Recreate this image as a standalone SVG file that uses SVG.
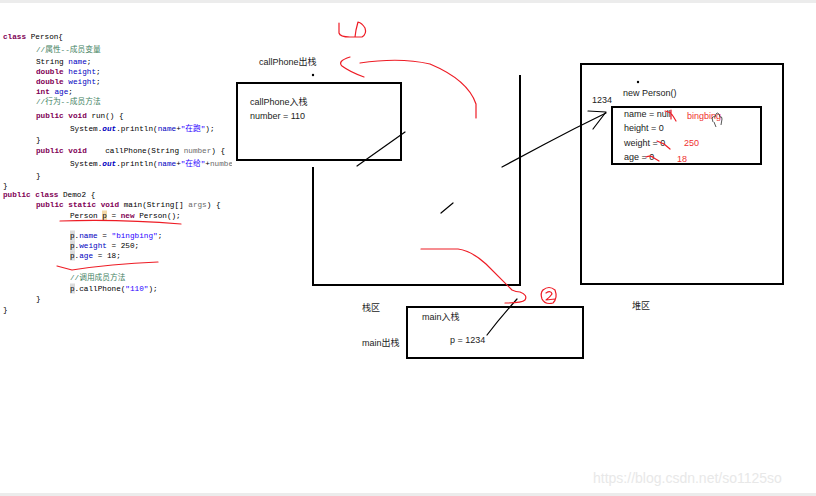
<svg xmlns="http://www.w3.org/2000/svg" width="816" height="496" viewBox="0 0 816 496">
<style>
.code{font-family:"Liberation Mono","Noto Sans CJK SC",monospace;font-size:7.7px;fill:#000;white-space:pre}
.kw{fill:#7f0055;font-weight:bold}
.fd{fill:#0000c0}
.st{fill:#2a00ff}
.cm{fill:#3f7f5f}
.out{fill:#0000c0;font-weight:bold;font-style:italic}
.pa{fill:#6a6a6a}
.lbl{font-family:"Liberation Sans","Noto Sans CJK SC",sans-serif;font-size:9px;fill:#222}
.red{font-family:"Liberation Sans","Noto Sans CJK SC",sans-serif;font-size:9px;fill:#f03030}
.box{fill:#fff;stroke:#000;stroke-width:2}
.line{fill:none;stroke:#000;stroke-width:2}
.ink{fill:none;stroke:#000;stroke-width:1.2;stroke-linecap:round;stroke-linejoin:round}
.rink{fill:none;stroke:#ee1c25;stroke-width:1.2;stroke-linecap:round;stroke-linejoin:round}
</style>
<defs>
<clipPath id="codeclip"><rect x="0" y="0" width="232" height="496"/></clipPath>
</defs>
<rect x="0" y="0" width="816" height="496" fill="#fff"/>
<rect x="0" y="0" width="816" height="3" fill="#ececec"/>
<rect x="0" y="493" width="816" height="3" fill="#ececec"/>

<g id="code" clip-path="url(#codeclip)">
<rect x="102" y="210.5" width="5" height="10" fill="#f4d9a8"/>
<rect x="70" y="230.5" width="5" height="10" fill="#dcdcdc"/>
<rect x="70" y="240.5" width="5" height="10" fill="#dcdcdc"/>
<rect x="70" y="250.5" width="5" height="10" fill="#dcdcdc"/>
<rect x="70" y="283.5" width="5" height="10" fill="#dcdcdc"/>
<text class="code" x="3" y="39"><tspan class="kw">class</tspan> Person{</text>
<text class="code cm" x="36" y="52">//属性--成员变量</text>
<text class="code" x="36" y="64">String <tspan class="fd">name</tspan>;</text>
<text class="code" x="36" y="74"><tspan class="kw">double</tspan> <tspan class="fd">height</tspan>;</text>
<text class="code" x="36" y="84"><tspan class="kw">double</tspan> <tspan class="fd">weight</tspan>;</text>
<text class="code" x="36" y="94"><tspan class="kw">int</tspan> <tspan class="fd">age</tspan>;</text>
<text class="code cm" x="36" y="104">//行为--成员方法</text>
<text class="code" x="36" y="118"><tspan class="kw">public</tspan> <tspan class="kw">void</tspan> run() {</text>
<text class="code" x="70" y="131">System.<tspan class="out">out</tspan>.println(<tspan class="fd">name</tspan>+<tspan class="st">"在跑"</tspan>);</text>
<text class="code" x="36" y="142">}</text>
<text class="code" x="36" y="153"><tspan class="kw">public</tspan> <tspan class="kw">void</tspan>    callPhone(String <tspan class="pa">number</tspan>) {</text>
<text class="code" x="70" y="166">System.<tspan class="out">out</tspan>.println(<tspan class="fd">name</tspan>+<tspan class="st">"在给"</tspan>+<tspan class="pa">number</tspan>);</text>
<text class="code" x="36" y="178">}</text>
<text class="code" x="3" y="188">}</text>
<text class="code" x="3" y="197"><tspan class="kw">public</tspan> <tspan class="kw">class</tspan> Demo2 {</text>
<text class="code" x="36" y="207"><tspan class="kw">public</tspan> <tspan class="kw">static</tspan> <tspan class="kw">void</tspan> main(String[] <tspan class="pa">args</tspan>) {</text>
<text class="code" x="70" y="218">Person p = <tspan class="kw">new</tspan> Person();</text>
<text class="code" x="70" y="238">p.<tspan class="fd">name</tspan> = <tspan class="st">"bingbing"</tspan>;</text>
<text class="code" x="70" y="248">p.<tspan class="fd">weight</tspan> = 250;</text>
<text class="code" x="70" y="258">p.<tspan class="fd">age</tspan> = 18;</text>
<text class="code cm" x="70" y="280">//调用成员方法</text>
<text class="code" x="70" y="291">p.callPhone(<tspan class="st">"110"</tspan>);</text>
<text class="code" x="36" y="301">}</text>
<text class="code" x="3" y="312">}</text>
</g>

<g id="stack">
<circle cx="313" cy="75" r="1.2" fill="#000"/>
<path class="line" d="M313,167 L313,285 L520,285 L520,75"/>
<text class="lbl" x="362" y="311">栈区</text>
<text class="lbl" x="362" y="346">main出栈</text>
<text class="lbl" x="259" y="65">callPhone出栈</text>
</g>

<g id="callphone-frame">
<rect class="box" x="237" y="83" width="164" height="77"/>
<text class="lbl" x="250" y="105">callPhone入栈</text>
<text class="lbl" x="250" y="119">number = 110</text>
</g>

<g id="main-frame">
<rect class="box" x="407" y="307" width="176" height="51"/>
<text class="lbl" x="422" y="320">main入栈</text>
<text class="lbl" x="450" y="343">p = 1234</text>
</g>

<g id="heap">
<rect class="box" x="581" y="64" width="202" height="220"/>
<circle cx="638" cy="82" r="1.2" fill="#000"/>
<text class="lbl" x="623" y="96">new Person()</text>
<text class="lbl" x="592" y="103">1234</text>
<text class="lbl" x="632" y="309">堆区</text>
</g>

<g id="person-object">
<rect class="box" x="612" y="107" width="149" height="57"/>
<text class="lbl" x="624" y="117">name =  null</text>
<text class="lbl" x="624" y="131">height = 0</text>
<text class="lbl" x="624" y="146">weight  = 0</text>
<text class="lbl" x="624" y="160">age = 0</text>
<text class="red" x="687" y="119">bingbing</text>
<text class="red" x="684" y="146">250</text>
<text class="red" x="677" y="162">18</text>
<path class="rink" d="M665,111 Q671,112 673,116 L676,121 M671,110 L671,119"/>
<path class="rink" d="M657,141 L664,144 L670,149"/>
<path class="rink" d="M646,157 Q651,155 654,158 L659,161"/>
<path fill="none" stroke="#444" stroke-width="0.9" d="M713,122 L712,118 Q713,116 715,117 L716,114 Q717,112 719,114 L720,117 Q722,116 722,119 L721,125 M714,122 L716,127"/>
</g>

<g id="connectors">
<path class="ink" d="M357,166 L405,132"/>
<path class="ink" d="M441,213 L453,203"/>
<path class="ink" d="M502,167 Q530,152 545,144 Q575,128 606,113"/>
<path class="ink" d="M588,111 L606,112 L593,129"/>
<path class="ink" d="M487,335 Q500,318 517,299"/>
<path class="rink" d="M339,23 L339,33 Q340,37 350,37 L362,37 Q367,34 365,28 Q362,23 358,22 L356,30 L355,37"/>
<path class="rink" d="M350,57 Q337,61 342,66 Q350,72 364,77"/>
<path class="rink" d="M360,63 Q400,57 430,64 Q468,80 476,104 L476,118"/>
<path class="rink" d="M421,249 L458,249 Q472,251 486,264 L512,290 Q516,292 520,292 Q528,295 525,300 Q522,303 505,303"/>
<path class="rink" d="M543,290 Q549,285 555,290 Q558,298 553,303 Q545,305 542,299 Q540,293 543,290 M546,293 Q551,290 552,294 Q550,297 546,300 L555,299"/>
<path class="rink" d="M60,221 Q120,219 181,224"/>
<path class="rink" d="M57,266 L72,270 Q110,264 158,262"/>
</g>

<text x="593" y="483" font-family="Liberation Sans, sans-serif" font-size="14" fill="#e8e8e8">https://blog.csdn.net/so1125so</text>
</svg>
